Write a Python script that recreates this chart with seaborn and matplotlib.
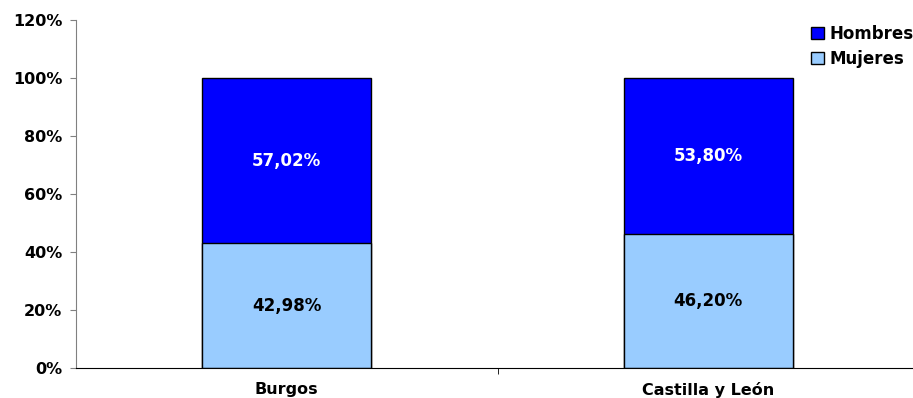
import pandas as pd
import seaborn as sns
import matplotlib.pyplot as plt

# Datos
regiones = ["Burgos", "Castilla y León"]
mujeres = [42.98, 46.20]
hombres = [57.02, 53.80]

data = pd.DataFrame({"region": regiones, "Mujeres": mujeres, "Hombres": hombres})
data["total"] = data["Mujeres"] + data["Hombres"]

sns.set_style("white")
plt.rcParams["font.family"] = ["DejaVu Sans"]
plt.rcParams["font.weight"] = "bold"
plt.rcParams["text.color"] = "black"
plt.rcParams["xtick.color"] = "black"
plt.rcParams["ytick.color"] = "black"

fig = plt.figure(figsize=(9.13, 3.98), dpi=100)
ax = fig.add_axes([76 / 913, 30 / 398, 843 / 913, 348 / 398])

# Hombres se dibuja como total y Mujeres encima
sns.barplot(data=data, x="region", y="total", color="#0000FF", width=0.4,
            edgecolor="black", linewidth=1, saturation=1, ax=ax, label="Hombres")
sns.barplot(data=data, x="region", y="Mujeres", color="#99CCFF", width=0.4,
            edgecolor="black", linewidth=1, saturation=1, ax=ax, label="Mujeres")

for i, row in data.iterrows():
    ax.text(i, row["Mujeres"] / 2, f"{row['Mujeres']:.2f}%".replace(".", ","),
            ha="center", va="center", fontsize=12, fontweight="bold", color="black")
    ax.text(i, row["Mujeres"] + row["Hombres"] / 2, f"{row['Hombres']:.2f}%".replace(".", ","),
            ha="center", va="center", fontsize=12, fontweight="bold", color="white")

ax.set_xlim(-0.5, 1.5)
ax.set_ylim(0, 120)
ax.set_yticks(range(0, 121, 20))
ax.set_yticklabels([f"{v}%" for v in range(0, 121, 20)], fontsize=11.5, fontweight="bold")
ax.set_xticks([0, 1])
ax.set_xticklabels(regiones, fontsize=11.5, fontweight="bold")
ax.set_xticks([0.5], minor=True)
ax.tick_params(axis="x", which="major", length=0, pad=10)
ax.tick_params(axis="x", which="minor", length=4, direction="out", bottom=True, color="black")
ax.tick_params(axis="y", length=4, direction="out", left=True, color="#808080", pad=6)
ax.set_xlabel("")
ax.set_ylabel("")

for s in ["top", "right"]:
    ax.spines[s].set_visible(False)
ax.spines["left"].set_color("#808080")
ax.spines["bottom"].set_color("black")

handles, labels = ax.get_legend_handles_labels()
leg = ax.legend(handles, labels, loc="upper left", bbox_to_anchor=(811 / 913, 1 - 25 / 398),
                bbox_transform=fig.transFigure, frameon=False, fontsize=12,
                handlelength=0.75, handleheight=0.75, handletextpad=0.35,
                labelspacing=0.4, borderpad=0, borderaxespad=0)
for t in leg.get_texts():
    t.set_fontweight("bold")

fig.savefig("out.png", dpi=100)
